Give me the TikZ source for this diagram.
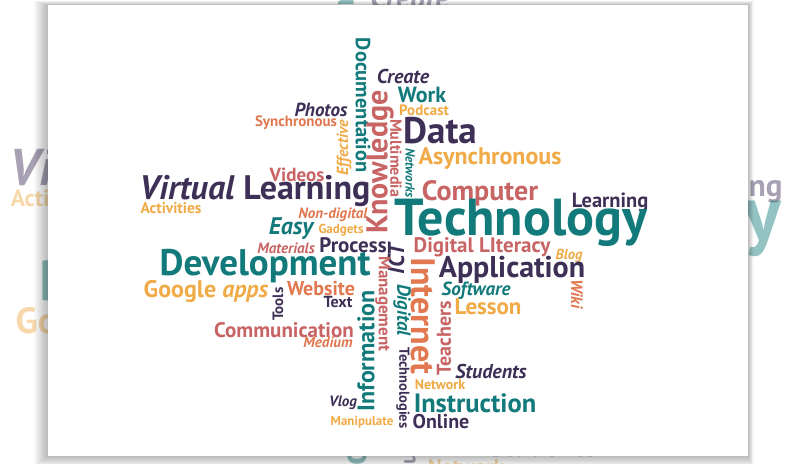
\documentclass[tikz,border=0pt]{standalone}
\usepackage{fontspec}
\setmainfont{PT Sans}
\definecolor{cloudpurple}{HTML}{3E2F57}
\definecolor{cloudteal}{HTML}{127A7A}
\definecolor{cloudrose}{HTML}{C86464}
\definecolor{cloudorange}{HTML}{E17850}
\definecolor{cloudyellow}{HTML}{F0AA46}

% all words of the cloud, used twice (faded backdrop and card)
\newcommand{\cloudwords}{%
\node[wd=20.5, cloudteal, rotate=-90] (documentation) at (363,105) {Documentation};
\node[wd=30, cloudrose, rotate=90] (knowledge) at (380,162) {Knowledge};
\node[wi=20, cloudpurple] (create) at (403,76) {Create};
\node[wd=22, cloudteal] (work) at (422,95) {Work};
\node[wd=15, cloudyellow] (podcast) at (424,110) {Podcast};
\node[wd=37, cloudpurple] (data) at (440,131) {Data};
\node[wd=24, cloudyellow] (asynchronous) at (490,158) {Asynchronous};
\node[wi=13, cloudteal, rotate=-90] (networks) at (410,173) {Networks};
\node[wd=16, cloudrose, rotate=-90] (multimedia) at (396,158) {Multimedia};
\node[wi=16, cloudyellow, rotate=90] (effective) at (344,148) {Effective};
\node[wi=19, cloudpurple] (photos) at (321,110) {Photos};
\node[wd=15, cloudorange] (synchronous) at (296,123) {Synchronous};
\node[wd=19, cloudrose] (videos) at (297,175) {Videos};
\node[wd=34, cloudpurple] (virtual) at (255,191) {\textit{Virtual} Learning};
\node[wd=15.5, cloudyellow] (activities) at (171,208) {Activities};
\node[wd=28, cloudrose] (computer) at (480,193) {Computer};
\node[wd=20.5, cloudpurple] (learning) at (610,202) {Learning};
\node[wd=52, cloudteal] (technology) at (521,223) {Technology};
\node[wi=15, cloudorange] (nondigital) at (333,215) {Non-digital};
\node[wi=24, cloudteal] (easy) at (291,229) {Easy};
\node[wd=13, cloudyellow] (gadgets) at (341,230) {Gadgets};
\node[wi=23, cloudpurple, rotate=90] (ict) at (396,259) {ICT};
\node[wi=15, cloudrose] (materials) at (286,248) {Materials};
\node[wd=21, cloudpurple] (process) at (353,245) {Process};
\node[wd=37, cloudteal] (development) at (265,266) {Development};
\node[wd=21, cloudrose] (digitalliteracy) at (482,247) {Digital LIteracy};
\node[wi=14.5, cloudyellow] (blog) at (569,256) {Blog};
\node[wd=30, cloudpurple] (application) at (512,270) {Application};
\node[wd=34, cloudorange, rotate=-90] (internet) at (423,316) {Internet};
\node[wi=19, cloudteal, rotate=-90] (digital) at (402,310) {Digital};
\node[wd=14.5, cloudpurple, rotate=-90] (technologies) at (403,388) {Technologies};
\node[wd=17, cloudrose, rotate=-90] (management) at (383,304) {Management};
\node[wd=24, cloudteal, rotate=90] (information) at (366,351) {Information};
\node[wd=24, cloudyellow] (google) at (206,291) {Google \textit{apps}};
\node[wd=20, cloudorange] (website) at (321,289) {Website};
\node[wd=15, cloudpurple, rotate=90] (tools) at (278,304) {Tools};
\node[wd=16, cloudpurple] (text) at (338,302) {Text};
\node[wd=21, cloudrose] (communication) at (284,330) {Communication};
\node[wi=15, cloudorange] (medium) at (328,342) {Medium};
\node[wi=19, cloudteal] (software) at (476,291) {Software};
\node[wd=23, cloudyellow] (lesson) at (488,307) {Lesson};
\node[wi=16.5, cloudorange, rotate=-90] (wiki) at (577,294) {Wiki};
\node[wd=20, cloudrose, rotate=90] (teachers) at (444,338) {Teachers};
\node[wi=20, cloudpurple] (students) at (491,371) {Students};
\node[wd=14, cloudyellow] (network) at (440,385) {Network};
\node[wd=26.5, cloudteal] (instruction) at (475,403) {Instruction};
\node[wd=20, cloudpurple] (online) at (441,421) {Online};
\node[wi=15, cloudpurple] (vlog) at (343,403) {Vlog};
\node[wd=13, cloudyellow] (manipulate) at (362,422) {Manipulate};
}

\begin{document}
\begin{tikzpicture}[x=1pt, y=-1pt,
  wd/.style={inner sep=0pt, font=\bfseries\fontsize{#1}{#1}\selectfont},
  wi/.style={inner sep=0pt, font=\bfseries\itshape\fontsize{#1}{#1}\selectfont}
]
\useasboundingbox (0,0) rectangle (800,463);
\fill[white] (0,0) rectangle (800,463);

% faded, enlarged copy behind the card
\begin{scope}[shift={(390,227)}, scale=1.52, shift={(-390,-227)},
  every node/.append style={transform shape, opacity=0.45}]
\cloudwords
\end{scope}

% card with soft shadow
\foreach \i in {1,...,14}
  \fill[black, opacity=0.018] ({48-\i}, {5-0.3*\i}) rectangle ({748+0.4*\i}, {456+0.8*\i});
\fill[white] (48,5) rectangle (748,456);

\cloudwords
\end{tikzpicture}
\end{document}
